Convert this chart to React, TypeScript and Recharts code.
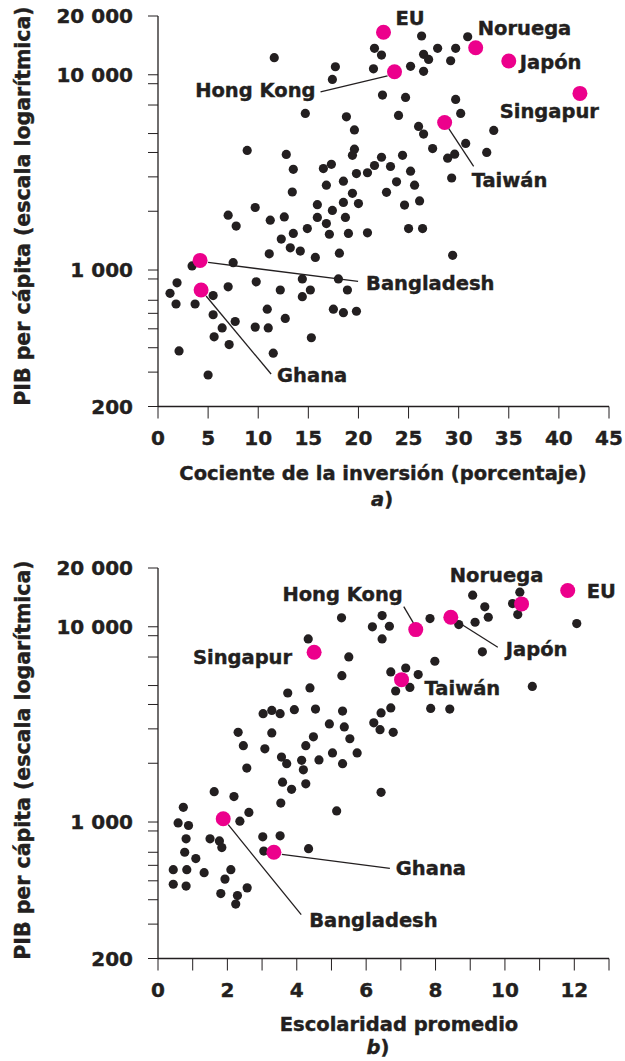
import React from "react";
import { ScatterChart, Scatter, XAxis, YAxis } from "recharts";

const FONT = '"DejaVu Sans", sans-serif';
const INK = "#231F20";
const PINK = "#EC008C";

// panel a: investment ratio (%) vs GDP per capita
const invX = [26.3,30.9,21.6,22.3,11.6,27.9,29.7,26.5,27.0,29.2,17.7,21.5,25.2,26.5,17.4,22.4,24.7,29.7,30.2,14.7,24.0,18.8,19.6,26.0,26.5,33.5,30.7,27.4,32.8,8.9,12.8,19.6,19.4,24.4,22.3,29.6,28.9,13.5,17.3,16.5,21.6,23.2,20.9,19.8,25.2,29.3,18.5,16.8,23.8,25.6,13.4,19.4,22.8,26.1,24.6,9.7,15.9,18.5,20.0,17.4,7.0,12.6,15.9,11.2,18.7,7.8,16.8,14.9,13.5,17.1,19.0,20.9,25.0,26.4,12.3,13.2,14.2,11.1,15.7,18.1,29.4,3.4,7.5,1.9,9.8,14.4,18.0,7.0,12.2,15.2,18.9,1.2,5.5,14.4,1.8,3.7,10.9,17.5,18.5,19.8,5.5,7.7,12.7,6.4,9.7,11.0,5.6,15.3,7.1,2.1,11.5,5.0];
const invGdp = [15800,15660,13660,12620,12230,13660,13660,12730,11990,11800,10990,10730,11050,10410,9470,7870,7660,7480,6340,6340,6190,6090,5220,5440,4970,5190,4450,4190,4000,4100,3910,4160,3870,3870,3780,3920,3740,3280,3480,3310,3430,3390,3150,3120,3210,2960,2850,2720,2830,2720,2510,2470,2500,2260,2150,2090,2160,2220,2190,2020,1910,1870,1860,1800,1860,1680,1730,1630,1540,1525,1540,1550,1630,1630,1440,1300,1250,1210,1160,1220,1190,1050,1090,860,870,900,900,820,790,790,790,760,740,730,670,670,630,630,605,615,590,545,565,505,510,505,455,450,415,385,375,290];

// panel b: average schooling (years) vs GDP per capita
const schoolX = [9.07,10.43,10.22,10.37,9.42,9.52,9.14,8.67,7.84,12.07,5.29,6.46,6.18,6.67,6.46,4.33,9.35,5.50,7.98,5.30,6.71,7.14,7.50,7.26,6.85,10.79,4.38,3.74,7.86,8.41,6.71,6.43,3.93,4.54,5.32,3.03,3.28,3.52,6.22,6.40,6.78,4.94,5.37,2.31,3.28,4.48,5.53,2.46,3.08,4.26,5.03,5.74,3.56,4.14,4.64,5.32,2.56,3.71,4.19,1.62,2.19,3.59,3.85,4.26,3.54,6.43,5.15,0.73,2.62,2.36,0.58,0.88,0.81,1.50,1.77,1.84,3.02,3.52,0.77,1.09,3.05,4.34,0.44,0.83,1.33,2.10,1.93,0.44,0.81,2.57,1.81,2.29,2.24];
const schoolGdp = [14510,15030,13150,11550,12650,11190,10550,10260,11020,10390,11110,11410,9990,10060,8670,8670,7440,7010,6660,5620,5870,6150,5690,4890,4690,4950,4860,4580,3820,3790,3840,3620,3760,3790,3700,3590,3730,3590,3220,2970,2880,3180,3070,2880,2860,2730,2670,2460,2370,2460,2260,2260,2150,2070,2080,1990,1890,1990,1850,1430,1350,1600,1470,1570,1250,1420,1140,1190,1120,1010,990,960,820,820,800,740,840,850,700,650,710,730,570,570,550,570,510,480,470,460,430,420,380];

// highlighted countries
const countries = ["EU", "Noruega", "Japón", "Hong Kong", "Singapur", "Taiwán", "Bangladesh", "Ghana"];
const hiInvX = [22.5, 31.7, 35.0, 23.6, 42.1, 28.6, 4.2, 4.3];
const hiInvGdp = [16500, 13760, 11760, 10360, 8030, 5700, 1120, 790];
const hiSchoolX = [11.81, 10.48, 8.44, 7.43, 4.5, 7.02, 1.88, 3.34];
const hiSchoolGdp = [15330, 13100, 11190, 9670, 7400, 5360, 1040, 700];

const gdpTicks = [200, 300, 400, 500, 600, 700, 900, 1000, 2000, 3000, 4000, 5000, 7000, 9000, 10000, 20000];
const gdpLabeled = [200, 1000, 10000, 20000];
const invTicks = [0, 5, 10, 15, 20, 25, 30, 35, 40, 45];
const schoolTicks = [0, 1, 2, 3, 4, 5, 6, 7, 8, 9, 10, 11, 12, 13];

type Note = { dx: number; dy: number; anchor: "start" | "middle" | "end"; line?: number[] };

const notesA: Record<string, Note> = {
  EU: { dx: 12, dy: -14, anchor: "start" },
  Noruega: { dx: 2, dy: -20, anchor: "start" },
  "Japón": { dx: 11, dy: 1, anchor: "start" },
  "Hong Kong": { dx: -79, dy: 18, anchor: "end", line: [-7, 4, -74, 20] },
  Singapur: { dx: 19, dy: 18, anchor: "end" },
  "Taiwán": { dx: 27, dy: 58, anchor: "start", line: [4, 6, 29, 44] },
  Bangladesh: { dx: 166, dy: 23, anchor: "start", line: [8, 2, 158, 21] },
  Ghana: { dx: 76, dy: 85, anchor: "start", line: [5, 6, 70, 84] },
};

const notesB: Record<string, Note> = {
  EU: { dx: 19, dy: 0, anchor: "start" },
  Noruega: { dx: -25, dy: -29, anchor: "middle" },
  "Japón": { dx: 55, dy: 32, anchor: "start", line: [9, 6, 47, 30] },
  "Hong Kong": { dx: -13, dy: -36, anchor: "end", line: [-2, -6, -12, -23] },
  Singapur: { dx: -22, dy: 5, anchor: "end" },
  "Taiwán": { dx: 23, dy: 8, anchor: "start" },
  Ghana: { dx: 122, dy: 16, anchor: "start", line: [8, 2, 116, 16] },
  Bangladesh: { dx: 86, dy: 101, anchor: "start", line: [5, 6, 78, 96] },
};

const fmtGdp = (v: number) =>
  gdpLabeled.includes(v) ? String(v).replace(/\B(?=(\d{3})+(?!\d))/g, " ") : "";

// a thin stroke thickens DejaVu a little, closer to the heavy original face
const tickStyle = { fill: INK, fontSize: 20, fontWeight: 700, fontFamily: FONT, stroke: INK, strokeWidth: 0.4 };

function Dot(props: any) {
  return <circle cx={props.cx} cy={props.cy} r={4.6} fill={INK} />;
}

function makeHiDot(notes: Record<string, Note>) {
  return (props: any) => {
    const { cx, cy, payload } = props;
    const n = notes[payload.name];
    return (
      <g>
        {n.line && (
          <line
            x1={cx + n.line[0]} y1={cy + n.line[1]}
            x2={cx + n.line[2]} y2={cy + n.line[3]}
            stroke={INK} strokeWidth={1.3}
          />
        )}
        <circle cx={cx} cy={cy} r={7.5} fill={PINK} />
        <text
          x={cx + n.dx} y={cy + n.dy} dy="0.36em" textAnchor={n.anchor}
          fill={INK} stroke={INK} strokeWidth={0.4}
          fontSize={19.5} fontWeight={700} fontFamily={FONT}
        >
          {payload.name}
        </text>
      </g>
    );
  };
}

function Panel({ xs, ys, hx, hy, domain, ticks, every, notes }: any) {
  const pts = xs.map((x: number, i: number) => ({ x, y: ys[i] }));
  const hi = countries.map((name, i) => ({ name, x: hx[i], y: hy[i] }));
  return (
    <ScatterChart width={625} height={509} margin={{ top: 16, right: 16, bottom: 72.5, left: 0 }}>
      <XAxis
        type="number" dataKey="x" domain={domain} ticks={ticks} interval={0}
        tick={tickStyle} tickSize={12} tickMargin={12}
        tickFormatter={(v: number) => (v % every === 0 ? String(v) : "")}
        stroke={INK} tickLine={{ stroke: INK }} axisLine={{ stroke: INK, strokeWidth: 1.3 }}
        height={30}
      />
      <YAxis
        type="number" dataKey="y" scale="log" domain={[200, 20000]} ticks={gdpTicks}
        interval={0} width={158} tick={tickStyle} tickSize={10}
        tickMargin={15} tickFormatter={fmtGdp}
        stroke={INK} tickLine={{ stroke: INK }} axisLine={{ stroke: INK, strokeWidth: 1.3 }}
      />
      <Scatter data={pts} shape={Dot} isAnimationActive={false} />
      <Scatter data={hi} shape={makeHiDot(notes)} isAnimationActive={false} />
    </ScatterChart>
  );
}

function Caption({ x, y, rotate, size = 19.5, children }: any) {
  return (
    <div
      style={{
        position: "absolute", left: x, top: y, whiteSpace: "nowrap",
        transform: `translate(-50%, -50%)${rotate ? " rotate(-90deg)" : ""}`,
        fontFamily: FONT, fontWeight: 700, fontSize: size, lineHeight: 1, color: INK,
        WebkitTextStroke: `0.4px ${INK}`,
      }}
    >
      {children}
    </div>
  );
}

export default function App() {
  return (
    <div style={{ position: "absolute", left: 0, top: 0, width: 625, height: 1061, background: "#fff", overflow: "hidden" }}>
      <div style={{ position: "absolute", left: 0, top: 0 }}>
        <Panel xs={invX} ys={invGdp} hx={hiInvX} hy={hiInvGdp} domain={[0, 45]} ticks={invTicks} every={5} notes={notesA} />
      </div>
      <div style={{ position: "absolute", left: 0, top: 552 }}>
        <Panel xs={schoolX} ys={schoolGdp} hx={hiSchoolX} hy={hiSchoolGdp} domain={[0, 13]} ticks={schoolTicks} every={2} notes={notesB} />
      </div>
      <Caption x={23} y={206} size={20.5} rotate>PIB per cápita (escala logarítmica)</Caption>
      <Caption x={383} y={474}>Cociente de la inversión (porcentaje)</Caption>
      <Caption x={382} y={500}><i>a</i>)</Caption>
      <Caption x={23} y={760} size={20.5} rotate>PIB per cápita (escala logarítmica)</Caption>
      <Caption x={399} y={1025}>Escolaridad promedio</Caption>
      <Caption x={378} y={1048}><i>b</i>)</Caption>
    </div>
  );
}
